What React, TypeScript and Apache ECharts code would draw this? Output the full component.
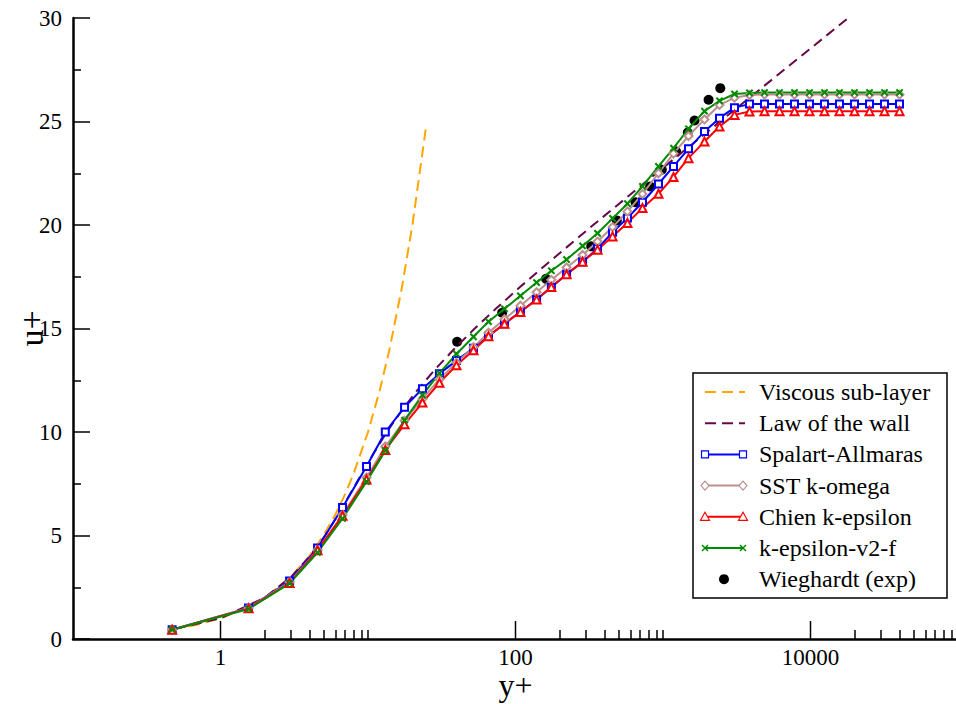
import React, { useEffect, useRef } from "react";
import * as echarts from "echarts";

// ---------- data ----------
const yPlusGrid = [0.47, 1.55, 2.94, 4.55, 6.72, 9.77, 13.1, 17.7, 23.4, 30.5, 39.8, 51.9, 65.6, 84.2, 108, 139, 175, 222, 285, 360, 455, 574, 726, 932, 1178, 1489, 1911, 2416, 3053, 3858, 4877, 6164, 7790, 9845, 12440, 15720, 19880, 25120, 31750, 40130];

const spalartU = [0.45, 1.5, 2.8, 4.4, 6.35, 8.33, 10.0, 11.2, 12.09, 12.82, 13.45, 14.05, 14.63, 15.23, 15.81, 16.4, 16.99, 17.62, 18.22, 18.86, 19.65, 20.34, 21.1, 21.98, 22.83, 23.68, 24.52, 25.16, 25.67, 25.84, 25.85, 25.85, 25.85, 25.85, 25.85, 25.85, 25.85, 25.85, 25.85, 25.85];
const sstU = [0.45, 1.5, 2.75, 4.3, 6.0, 7.8, 9.3, 10.55, 11.6, 12.55, 13.35, 14.1, 14.8, 15.45, 16.1, 16.75, 17.35, 17.95, 18.55, 19.2, 19.9, 20.65, 21.5, 22.5, 23.45, 24.3, 25.1, 25.8, 26.15, 26.28, 26.3, 26.3, 26.3, 26.3, 26.3, 26.3, 26.3, 26.3, 26.3, 26.3];
const chienU = [0.45, 1.48, 2.7, 4.29, 5.95, 7.7, 9.13, 10.37, 11.42, 12.38, 13.22, 13.95, 14.63, 15.23, 15.8, 16.4, 17.0, 17.62, 18.22, 18.81, 19.45, 20.1, 20.82, 21.51, 22.32, 23.23, 24.03, 24.76, 25.32, 25.48, 25.5, 25.5, 25.5, 25.5, 25.5, 25.5, 25.5, 25.5, 25.5, 25.5];
const v2fU = [0.45, 1.45, 2.69, 4.18, 5.82, 7.6, 9.1, 10.57, 11.78, 12.84, 13.77, 14.6, 15.33, 15.95, 16.58, 17.22, 17.79, 18.33, 18.99, 19.6, 20.32, 21.03, 21.87, 22.83, 23.71, 24.65, 25.5, 26.0, 26.33, 26.38, 26.4, 26.4, 26.4, 26.4, 26.4, 26.4, 26.4, 26.4, 26.4, 26.4];

const viscousYPlus = [0.47, 0.7, 1, 1.5, 2, 3, 4, 5, 6, 7, 8, 10, 12, 14, 17, 20, 24.7];
const viscousU = [0.47, 0.7, 1, 1.5, 2, 3, 4, 5, 6, 7, 8, 10, 12, 14, 17, 20, 24.7];

const lawYPlus = [0.5, 1.0, 2.0, 3.01, 4.04, 5.12, 6.27, 7.56, 9.08, 10.97, 13.43, 16.78, 21.5, 28.3, 38.25, 52.9, 74.75, 107.2, 155.7, 336.3, 739, 1637, 3639, 8097, 18022];
const lawU = [0.5, 1, 2, 3, 4, 5, 6, 7, 8, 9, 10, 11, 12, 13, 14, 15, 16, 17, 18, 20, 22, 24, 26, 28, 30];

const expYPlus = [40.2, 81.2, 161, 326, 486, 651, 818, 982, 1228, 1472, 1636, 2038, 2445];
const expU = [14.36, 15.76, 17.4, 18.97, 20.22, 21.1, 21.86, 22.67, 23.55, 24.47, 25.05, 26.05, 26.61];

const xMajorTicks = [1, 100, 10000];
const xMinorTicks = [2, 3, 4, 5, 6, 7, 8, 9, 10, 200, 300, 400, 500, 600, 700, 800, 900, 1000, 20000, 30000, 40000, 50000, 60000, 70000, 80000, 90000];

const names = ["Viscous sub-layer", "Law of the wall", "Spalart-Allmaras", "SST k-omega", "Chien k-epsilon", "k-epsilon-v2-f", "Wieghardt (exp)"];
const colors = ["#ffa500", "#670748", "#0000ff", "#bc8f8f", "#ff0000", "#008b00", "#000000"];

const FONT = "'Liberation Serif', 'Times New Roman', serif";
const X_PATH = "path://M0,1L1,0L5,4L9,0L10,1L6,5L10,9L9,10L5,6L1,10L0,9L4,5Z";

const pairs = (xs: number[], ys: number[]) => xs.map((x, i) => [x, ys[i]]);

function legendGraphic() {
  const left = 693, top = 373, w = 254, h = 225;
  const x0 = 705, x1 = 743, tx = 759, row0 = 392, step = 31.2;
  const children: any[] = [
    { type: "rect", shape: { x: left, y: top, width: w, height: h }, style: { fill: "#fff", stroke: "#000", lineWidth: 1.5 } },
  ];
  const marker = (kind: string, cx: number, cy: number, color: string) => {
    if (kind === "rect") return { type: "rect", shape: { x: cx - 3.5, y: cy - 3.5, width: 7, height: 7 }, style: { fill: "#fff", stroke: color, lineWidth: 1.2 } };
    if (kind === "diamond") return { type: "polygon", shape: { points: [[cx, cy - 4.5], [cx + 4, cy], [cx, cy + 4.5], [cx - 4, cy]] }, style: { fill: "#fff", stroke: color, lineWidth: 1.2 } };
    if (kind === "triangle") return { type: "polygon", shape: { points: [[cx, cy - 4.5], [cx + 4.5, cy + 3.5], [cx - 4.5, cy + 3.5]] }, style: { fill: "#fff", stroke: color, lineWidth: 1.2 } };
    if (kind === "x") return { type: "group", children: [
      { type: "line", shape: { x1: cx - 3, y1: cy - 3, x2: cx + 3, y2: cy + 3 }, style: { stroke: color, lineWidth: 1.5 } },
      { type: "line", shape: { x1: cx - 3, y1: cy + 3, x2: cx + 3, y2: cy - 3 }, style: { stroke: color, lineWidth: 1.5 } },
    ] };
    return { type: "circle", shape: { cx, cy, r: 5 }, style: { fill: color } };
  };
  const kinds = ["dash", "dash", "rect", "diamond", "triangle", "x", "circle"];
  names.forEach((name, i) => {
    const y = row0 + step * i;
    const color = colors[i];
    const kind = kinds[i];
    if (kind === "dash") {
      children.push({ type: "line", shape: { x1: x0, y1: y, x2: x1 + 2, y2: y }, style: { stroke: color, lineWidth: 2, lineDash: [11, 6] } });
    } else if (kind === "circle") {
      children.push(marker("circle", (x0 + x1) / 2, y, color));
    } else {
      children.push({ type: "line", shape: { x1: x0, y1: y, x2: x1, y2: y }, style: { stroke: color, lineWidth: 2 } });
      children.push(marker(kind, x0, y, color));
      children.push(marker(kind, x1, y, color));
    }
    children.push({ type: "text", x: tx, y, style: { text: name, fill: "#000", font: `24px ${FONT}`, verticalAlign: "middle", align: "left" } });
  });
  return { type: "group", id: "legend", z: 100, children };
}

export default function App() {
  const ref = useRef<HTMLDivElement>(null);
  useEffect(() => {
    if (!ref.current) return;
    const chart = echarts.init(ref.current, undefined, { renderer: "svg" });
    const axisBase = () => ({
      type: "log" as const,
      logBase: 10,
      min: 0.1,
      max: 100000,
      position: "bottom" as const,
      offset: 0,
      splitLine: { show: false },
      minorSplitLine: { show: false },
    });
    const modelSeries = (i: number, u: number[], symbol: string, size: number) => ({
      type: "line",
      name: names[i],
      xAxisIndex: 0,
      data: pairs(yPlusGrid, u),
      symbol,
      symbolSize: size,
      showSymbol: true,
      color: colors[i],
      lineStyle: { color: colors[i], width: 2 },
      itemStyle: { color: colors[i], borderColor: colors[i], borderWidth: 1.2 },
      emphasis: { disabled: true },
    });
    chart.setOption({
      animation: false,
      backgroundColor: "#fff",
      grid: { left: 73, right: -2, top: 18, bottom: 65, containLabel: false, outerBoundsMode: "none" },
      xAxis: [
        {
          ...axisBase(),
          name: "y+",
          nameLocation: "middle",
          nameGap: 32,
          nameMoveOverlap: false,
          nameTextStyle: { fontSize: 32, lineHeight: 28, fontFamily: FONT, color: "#000" },
          axisLine: { show: true, lineStyle: { color: "#000", width: 2.5 } },
          axisTick: { show: false },
          axisLabel: { show: true, customValues: xMajorTicks.slice(), margin: 8, fontSize: 23, lineHeight: 20, fontFamily: FONT, color: "#000", formatter: (v: number) => String(Math.round(v)) },
        },
        {
          ...axisBase(),
          axisLine: { show: false },
          axisTick: { show: true, inside: true, length: 9, customValues: xMinorTicks.slice(), lineStyle: { color: "#000", width: 1.5 } },
          axisLabel: { show: false },
        },
      ],
      yAxis: {
        type: "value",
        min: 0,
        max: 30,
        interval: 5,
        name: "u+",
        nameLocation: "middle",
        nameGap: 25,
        nameMoveOverlap: false,
        nameTextStyle: { fontSize: 34, lineHeight: 34, fontFamily: FONT, color: "#000" },
        splitLine: { show: false },
        axisLine: { show: true, lineStyle: { color: "#000", width: 2.5 } },
        axisTick: { show: true, inside: true, length: 17, lineStyle: { color: "#000", width: 1.5 } },
        minorTick: { show: true, splitNumber: 2, length: 8, lineStyle: { color: "#000", width: 1.5 } },
        axisLabel: { margin: 11, fontSize: 23, fontFamily: FONT, color: "#000" },
      },
      series: [
        {
          type: "line",
          name: names[0],
          data: pairs(viscousYPlus, viscousU),
          symbol: "none",
          lineStyle: { color: colors[0], width: 2, type: [11, 6] },
          emphasis: { disabled: true },
        },
        {
          type: "line",
          name: names[1],
          data: pairs(lawYPlus, lawU),
          symbol: "none",
          lineStyle: { color: colors[1], width: 2, type: [10, 6] },
          emphasis: { disabled: true },
        },
        modelSeries(2, spalartU, "emptyRect", 7),
        modelSeries(3, sstU, "emptyDiamond", 8),
        modelSeries(4, chienU, "emptyTriangle", 8),
        modelSeries(5, v2fU, X_PATH, 6),
        {
          type: "scatter",
          name: names[6],
          data: pairs(expYPlus, expU),
          symbol: "circle",
          symbolSize: 10,
          itemStyle: { color: colors[6], opacity: 1 },
          emphasis: { disabled: true },
        },
      ],
      graphic: [legendGraphic()],
    });
    // major x ticks, positioned through the chart's own log scale
    const tickEls: any[] = xMajorTicks.map((v, i) => {
      const p = chart.convertToPixel({ xAxisIndex: 0, yAxisIndex: 0 }, [v, 0]) as number[];
      return {
        type: "line",
        id: "majorTick" + i,
        z: 200,
        silent: true,
        shape: { x1: p[0], y1: p[1], x2: p[0], y2: p[1] - 18 },
        style: { stroke: "#000", lineWidth: 1.5 },
      };
    });
    chart.setOption({ graphic: [legendGraphic(), ...tickEls] });
    return () => chart.dispose();
  }, []);
  return <div ref={ref} style={{ position: "absolute", left: 0, top: 0, width: 956, height: 704, background: "#fff" }} />;
}
